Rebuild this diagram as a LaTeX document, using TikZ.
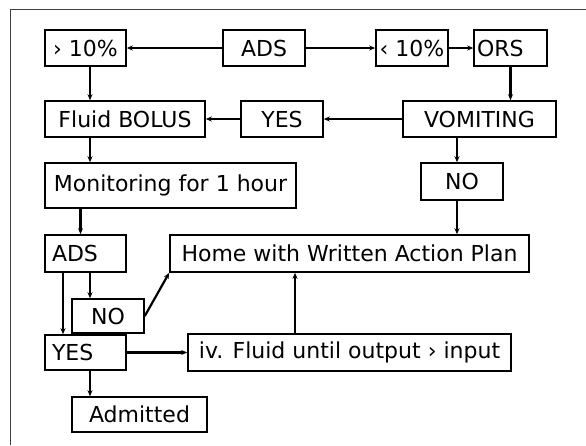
\documentclass[tikz,border=0pt]{standalone}
\usepackage{fontspec}
\setmainfont{DejaVu Sans}
\usetikzlibrary{arrows.meta}
\begin{document}
\begin{tikzpicture}[x=1pt,y=-1pt,
    box/.style={draw, line width=1.6pt, inner sep=0pt, minimum height=36pt,
      font=\fontsize{22}{26}\selectfont},
    lbox/.style={box, inner xsep=7pt, text width=#1, align=left},
    arr/.style={line width=2.2pt, -{Stealth[length=6pt,width=5pt]}}]
    \useasboundingbox (0,0) rectangle (586,445);
    \draw[line width=1pt, black!75] (10,445) -- (10,9) -- (586,9);
    % top row
    \node[box, minimum width=81pt] (gt) at (85.5,48) {› 10\%};
    \node[box, minimum width=82pt] (ads) at (264,48) {ADS};
    \node[box, minimum width=72pt] (lt) at (412,48) {‹ 10\%};
    \node[lbox=67pt, inner xsep=3pt] (ors) at (510.5,48) {ORS};
    \node[box, minimum width=160pt] (bolus) at (125,119) {Fluid BOLUS};
    \node[box, minimum width=82pt] (yes) at (282,119) {YES};
    \node[box, minimum width=153pt] (vomit) at (479.5,119) {VOMITING};
    \node[box, minimum width=251pt, minimum height=45pt] (monitor) at (170.5,185.5) {Monitoring for 1 hour};
    \node[box, minimum width=82pt, minimum height=37pt] (no) at (462,181.5) {NO};
    % lower part
    \node[lbox=67pt, minimum height=37pt] (adsb) at (85.5,253.5) {ADS};
    \node[box, minimum width=359pt, minimum height=37pt] (home) at (349.5,253.5) {Home with Written Action Plan};
    \node[box, minimum width=72pt, minimum height=34pt] (nob) at (108,316) {NO};
    \node[lbox=67pt, minimum height=35pt] (yesb) at (85.5,352.5) {YES};
    \node[box, minimum width=323pt, minimum height=37pt] (iv) at (349.5,352.5) {iv. Fluid until output › input};
    \node[box, minimum width=135pt, minimum height=35pt] (adm) at (139.5,414.5) {Admitted};
    % connectors
    \draw[arr] (ads.west) -- (gt.east);
    \draw[arr] (ads.east) -- (lt.west);
    \draw[arr] (lt.east) -- (ors.west);
    \draw[arr] (ors.south) -- (ors.south |- vomit.north);
    \draw[arr] (vomit.west) -- (yes.east);
    \draw[arr] (yes.west) -- (bolus.east);
    \draw[arr] ([xshift=4.5pt]gt.south) -- ([xshift=4.5pt]gt.south |- bolus.north);
    \draw[arr] ([xshift=4.5pt]gt.south |- bolus.south) -- ([xshift=4.5pt]gt.south |- monitor.north);
    \draw[arr] ([xshift=-5pt]adsb.north |- monitor.south) -- ([xshift=-5pt]adsb.north);
    \draw[arr] ([xshift=-5pt]no.north |- vomit.south) -- ([xshift=-5pt]no.north);
    \draw[arr] ([xshift=-5pt]no.south) -- ([xshift=-5pt]no.south |- home.north);
    \draw[arr] ([xshift=-22.5pt]adsb.south) -- ([xshift=-22.5pt]yesb.north);
    \draw[arr] ([xshift=4.5pt]adsb.south) -- ([xshift=4.5pt]adsb.south |- nob.north);
    \draw[arr] (nob.east) -- (home.south west);
    \draw[arr] (yesb.east) -- (iv.west);
    \draw[arr] ([xshift=-54.5pt]iv.north) -- ([xshift=-54.5pt]home.south);
    \draw[arr] ([xshift=4.5pt]yesb.south) -- ([xshift=4.5pt]yesb.south |- adm.north);
\end{tikzpicture}
\end{document}
